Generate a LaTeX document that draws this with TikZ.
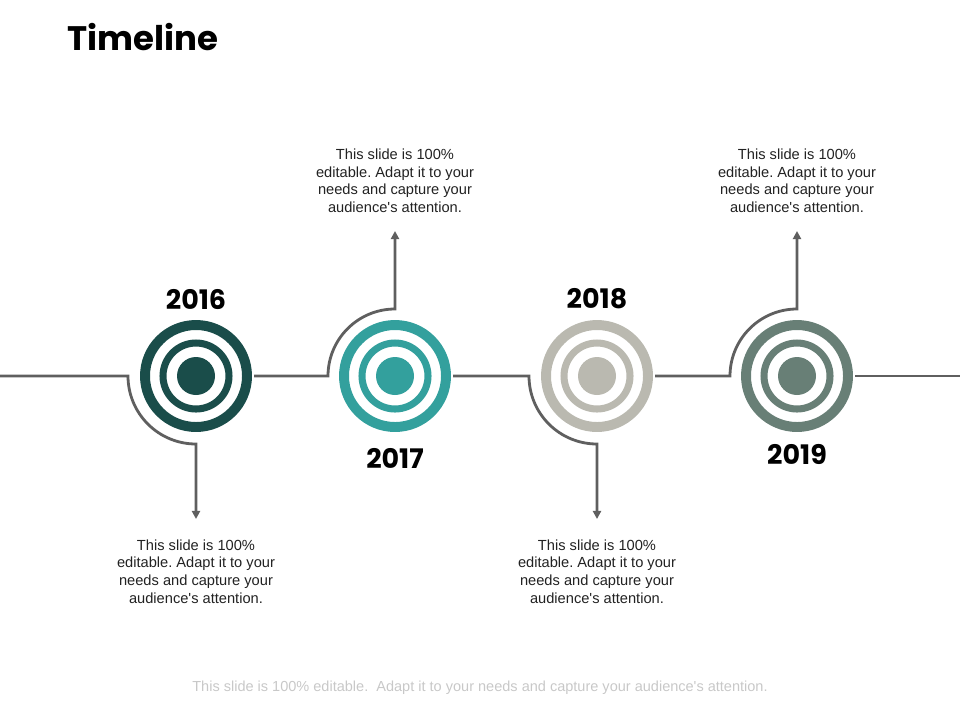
\documentclass[tikz,border=0pt]{standalone}
\usepackage{fontspec}
\setmainfont{Liberation Sans}
\newfontfamily\notefont{Liberation Sans}
\newfontfamily\headfont{Poppins}
\usetikzlibrary{positioning,calc,arrows.meta}

\definecolor{tealdark}{HTML}{1A4D4A}
\definecolor{tealmid}{HTML}{33A09D}
\definecolor{stonegray}{HTML}{BAB9B0}
\definecolor{sagegray}{HTML}{687F76}
\definecolor{linegray}{HTML}{5F5F5F}
\definecolor{notegray}{HTML}{222222}
\definecolor{footgray}{HTML}{C8C8C8}

\tikzset{
  conn/.style={line width=2.4pt, draw=linegray},
  tip/.style={-{Triangle[width=7pt,length=7pt]}},
  target/.style={circle, minimum size=3.48cm, inner sep=0pt},
  year/.style={font=\headfont\bfseries\fontsize{23}{27}\selectfont},
  note/.style={align=center, text=notegray, font=\notefont\fontsize{12.5}{15.2}\selectfont},
}

\begin{document}
\frenchspacing
\begin{tikzpicture}[x=0.03cm, y=-0.03cm]
\useasboundingbox (0,0) rectangle (960,720);

\node[anchor=west, inner sep=0pt, font=\headfont\bfseries\fontsize{29}{34}\selectfont] (ttl) at (67,37) {Timeline};

% targets
\foreach \n/\x/\c in {2016/196/tealdark, 2017/395/tealmid, 2018/597/stonegray, 2019/797/sagegray}
{
    \node[target] (c\n) at (\x,376) {};
    \fill[\c] (c\n) circle (19);
    \draw[\c, line width=6pt] (c\n) circle (33);
    \draw[\c, line width=8.5pt] (c\n) circle (51);
}

\node[year] (y2016) at (196,299) {2016};
\node[year] (y2017) at (395,458) {2017};
\node[year] (y2018) at (597,299) {2018};
\node[year] (y2019) at (797,454) {2019};

\coordinate (lft) at (0,376);
\coordinate (rgt) at (960,376);
\coordinate (a2016) at (196,519);
\coordinate (a2017) at (395,231);
\coordinate (a2018) at (597,519);
\coordinate (a2019) at (797,231);

% connectors
\draw[conn, tip] (lft) -- ($(c2016)+(-68,0)$) arc[start angle=180, end angle=90, radius=68] -- (a2016);
\draw[conn, tip] (c2016.east) -- ($(c2017)+(-67,0)$) arc[start angle=180, end angle=270, radius=67] -- (a2017);
\draw[conn, tip] (c2017.east) -- ($(c2018)+(-68,0)$) arc[start angle=180, end angle=90, radius=68] -- (a2018);
\draw[conn, tip] (c2018.east) -- ($(c2019)+(-67,0)$) arc[start angle=180, end angle=270, radius=67] -- (a2019);
\draw[conn] (c2019.east) -- (rgt);

% notes
\node[note, below=14pt of a2016] (n2016) {This slide is 100\%\\editable. Adapt it to your\\needs and capture your\\audience's attention.};
\node[note, above=12pt of a2017] (n2017) {This slide is 100\%\\editable. Adapt it to your\\needs and capture your\\audience's attention.};
\node[note, below=14pt of a2018] (n2018) {This slide is 100\%\\editable. Adapt it to your\\needs and capture your\\audience's attention.};
\node[note, above=12pt of a2019] (n2019) {This slide is 100\%\\editable. Adapt it to your\\needs and capture your\\audience's attention.};

\node[text=footgray, font=\notefont\fontsize{12.4}{14}\selectfont] (ftr) at (480,688) {This slide is 100\% editable.\ \ Adapt it to your needs and capture your audience's attention.};
\end{tikzpicture}
\end{document}
